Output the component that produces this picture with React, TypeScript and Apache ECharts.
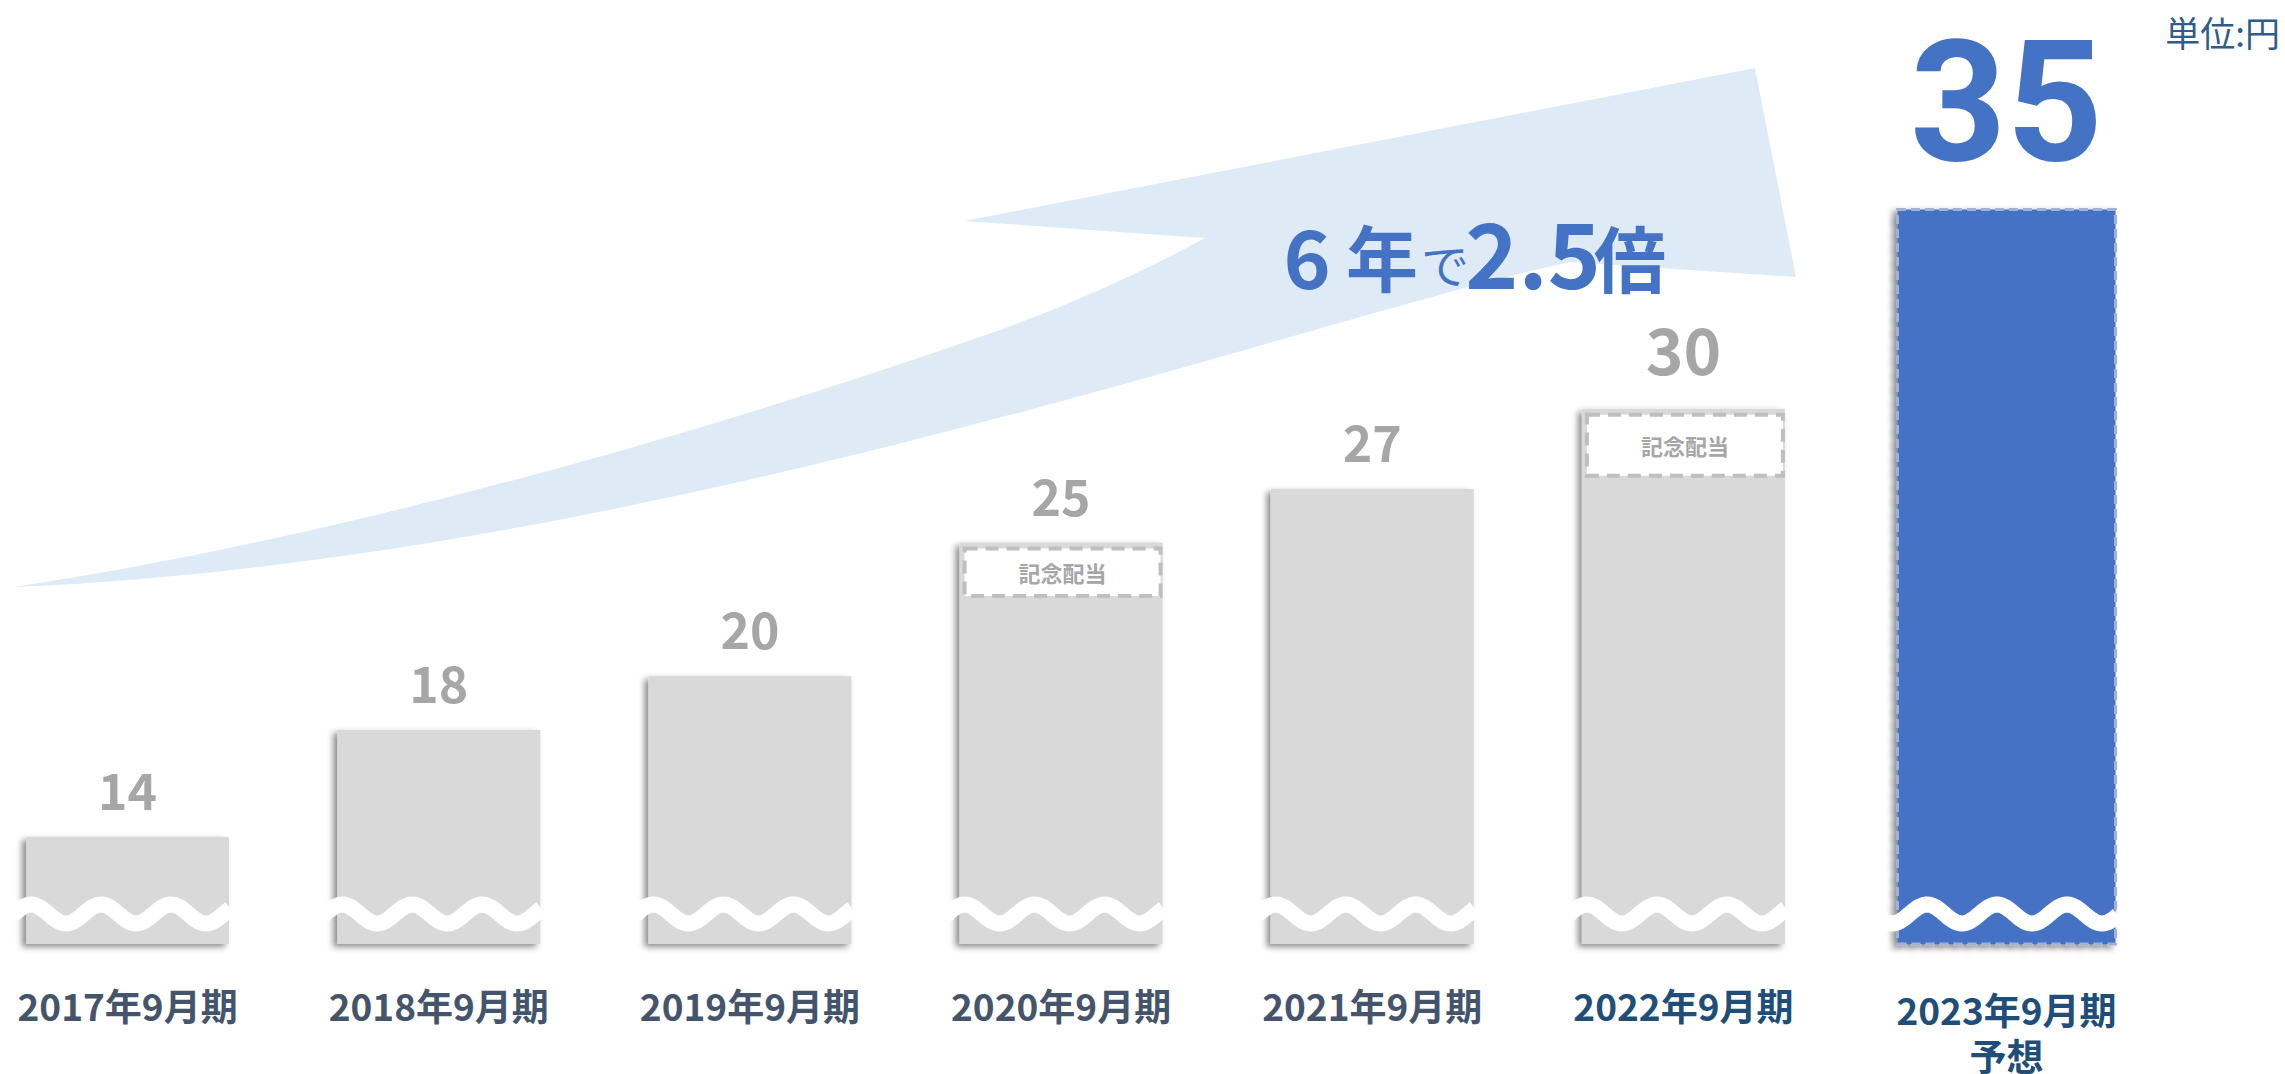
import React, { useEffect, useRef } from 'react';
import * as echarts from 'echarts';

// ---- data ----
const categories = ['2017年9月期', '2018年9月期', '2019年9月期', '2020年9月期', '2021年9月期', '2022年9月期'];
const dividends = [14, 18, 20, 25, 27, 30];
const commemorative = [0, 0, 0, 2, 0, 2.5];
const forecastCategories = ['2023年9月期\n予想'];
const forecastDividends = [35];
const commemorativeLabel = '記念配当';
const unitLabel = '単位:円';
const growthParts = ['6', '年', 'で', '2.5', '倍'];

const ARROW_D =
  'M13,587 C250,552 600,470 1000,330 Q1110,290 1205,238 L964,221 L1755,68 L1796,277 L1570,262 C1300,320 650,560 13,587 Z';

let registered = false;
function ensureShapes() {
  if (registered) return;
  echarts.graphic.registerShape('growthArrow', echarts.graphic.extendPath(ARROW_D, {}) as any);
  registered = true;
}

const FONT = "'Noto Sans CJK JP', 'Noto Sans', sans-serif";
const BAR_W = 203;
const FORECAST_W = 221;
const Y_MIN = 10;

function waveRenderer(barWidth: number, phase: number) {
  return (params: any, api: any) => {
    const base = api.coord([api.value(0), api.value(1)]);
    const barLeft = base[0] - barWidth / 2;
    const left = barLeft - 14;
    const right = base[0] + barWidth / 2 + 1;
    const P = 70;
    const A = 9.5;
    const yc = base[1] - 30;
    const pts: number[][] = [];
    for (let x = left; x <= right; x += 2) {
      pts.push([x, yc - A * Math.cos((2 * Math.PI * (x - barLeft - phase)) / P)]);
    }
    return {
      type: 'polyline',
      shape: { points: pts },
      style: { stroke: '#ffffff', lineWidth: 16, fill: null },
    };
  };
}

export default function App() {
  const ref = useRef<HTMLDivElement>(null);

  useEffect(() => {
    ensureShapes();
    const chart = echarts.init(ref.current!, undefined, { renderer: 'svg' });

    const shadow = {
      shadowBlur: 6,
      shadowColor: 'rgba(0,0,0,0.45)',
      shadowOffsetX: -4,
      shadowOffsetY: 3,
    };

    const option: any = {
      animation: false,
      backgroundColor: '#ffffff',
      grid: [
        { left: -28, top: 208, width: 1867, height: 736, containLabel: false, outerBoundsMode: 'none' },
        { left: 1850, top: 208, width: 313, height: 736, containLabel: false, outerBoundsMode: 'none' },
      ],
      xAxis: [
        {
          type: 'category',
          gridIndex: 0,
          data: categories,
          axisLine: { show: false },
          axisTick: { show: false },
          splitLine: { show: false },
          axisLabel: {
            interval: 0,
            margin: 42,
            fontSize: 37,
            fontWeight: 'bold',
            fontFamily: FONT,
            color: (v: string, i: number) => (i === categories.length - 1 ? '#1f4e79' : '#44546a'),
          },
        },
        {
          type: 'category',
          gridIndex: 1,
          data: forecastCategories,
          axisLine: { show: false },
          axisTick: { show: false },
          splitLine: { show: false },
          axisLabel: {
            interval: 0,
            margin: 42,
            fontSize: 37,
            lineHeight: 46,
            fontWeight: 'bold',
            fontFamily: FONT,
            color: '#1f4e79',
          },
        },
      ],
      yAxis: [
        { type: 'value', gridIndex: 0, min: Y_MIN, max: 37.5, show: false, splitLine: { show: false } },
        { type: 'value', gridIndex: 1, min: Y_MIN, max: 35, show: false, splitLine: { show: false } },
      ],
      graphic: [
        { type: 'growthArrow', x: 0, y: 0, silent: true, z: 0, style: { fill: '#deebf7' } },
        {
          type: 'text', x: 1307, y: 254, z: 10,
          style: { text: growthParts[0], fontSize: 80, fontWeight: 'bold', fontFamily: FONT, fill: '#4472c4', align: 'center', verticalAlign: 'middle' },
        },
        {
          type: 'text', x: 1382, y: 254, z: 10,
          style: { text: growthParts[1], fontSize: 72, fontWeight: 'bold', fontFamily: FONT, fill: '#4472c4', align: 'center', verticalAlign: 'middle' },
        },
        {
          type: 'text', x: 1445, y: 263, z: 10,
          style: { text: growthParts[2], fontSize: 48, fontWeight: 'normal', fontFamily: FONT, fill: '#4472c4', align: 'center', verticalAlign: 'middle' },
        },
        {
          type: 'text', x: 1533, y: 250, z: 10,
          style: { text: growthParts[3], fontSize: 90, fontWeight: 'bold', fontFamily: FONT, fill: '#4472c4', align: 'center', verticalAlign: 'middle' },
        },
        {
          type: 'text', x: 1630, y: 255, z: 10,
          style: { text: growthParts[4], fontSize: 72, fontWeight: 'bold', fontFamily: FONT, fill: '#4472c4', align: 'center', verticalAlign: 'middle' },
        },
        {
          type: 'text', x: 2280, y: 31, z: 10,
          style: { text: unitLabel, fontSize: 35, fontWeight: 'normal', fontFamily: FONT, fill: '#2e5d8c', align: 'right', verticalAlign: 'middle' },
        },
      ],
      series: [
        {
          name: 'dividend',
          type: 'bar',
          xAxisIndex: 0,
          yAxisIndex: 0,
          barWidth: BAR_W,
          z: 2,
          data: dividends.map((v, i) =>
            i === dividends.length - 1
              ? { value: v, label: { fontSize: 64, distance: 30 } }
              : { value: v }
          ),
          itemStyle: { color: '#d9d9d9', ...shadow },
          label: {
            show: true,
            position: 'top',
            distance: 24,
            fontSize: 50,
            fontWeight: 'bold',
            fontFamily: FONT,
            color: '#a6a6a6',
          },
        },
        {
          name: 'commemorative',
          type: 'custom',
          xAxisIndex: 0,
          yAxisIndex: 0,
          z: 3,
          encode: { x: 0, y: 1 },
          data: dividends.map((v, i) => [i, v, commemorative[i]]),
          renderItem: (params: any, api: any) => {
            const idx = api.value(0);
            const total = api.value(1);
            const comm = api.value(2);
            if (!comm) return null;
            const top = api.coord([idx, total]);
            const bot = api.coord([idx, total - comm]);
            const x0 = top[0] - BAR_W / 2 + 5;
            const x1 = top[0] + BAR_W / 2 - 2;
            const y0 = top[1] + 6;
            const y1 = bot[1];
            return {
              type: 'group',
              children: [
                {
                  type: 'rect',
                  shape: { x: x0, y: y0, width: x1 - x0, height: y1 - y0 },
                  style: { fill: '#ffffff', stroke: '#bfbfbf', lineWidth: 4, lineDash: [13, 8] },
                },
                {
                  type: 'text',
                  x: (x0 + x1) / 2,
                  y: (y0 + y1) / 2,
                  style: {
                    text: commemorativeLabel,
                    align: 'center',
                    verticalAlign: 'middle',
                    fill: '#a6a6a6',
                    fontSize: 22,
                    fontWeight: 'bold',
                    fontFamily: FONT,
                  },
                },
              ],
            };
          },
        },
        {
          name: 'wave',
          type: 'custom',
          xAxisIndex: 0,
          yAxisIndex: 0,
          z: 4,
          silent: true,
          encode: { x: 0, y: 1 },
          data: categories.map((c, i) => [i, Y_MIN]),
          renderItem: waveRenderer(BAR_W, 5),
        },
        {
          name: 'forecast',
          type: 'bar',
          xAxisIndex: 1,
          yAxisIndex: 1,
          barWidth: FORECAST_W,
          z: 2,
          data: forecastDividends,
          itemStyle: {
            color: '#4472c4',
            borderColor: '#9fb2d6',
            borderWidth: 3,
            borderType: [9, 5],
            ...shadow,
          },
          label: {
            show: true,
            position: 'top',
            distance: 22,
            fontSize: 168,
            fontWeight: 'bold',
            fontFamily: "Roboto, 'Noto Sans', sans-serif",
            color: '#4472c4',
          },
        },
        {
          name: 'forecastWave',
          type: 'custom',
          xAxisIndex: 1,
          yAxisIndex: 1,
          z: 4,
          silent: true,
          encode: { x: 0, y: 1 },
          data: forecastCategories.map((c, i) => [i, Y_MIN]),
          renderItem: waveRenderer(FORECAST_W, 31),
        },
      ],
    };

    chart.setOption(option);
    return () => chart.dispose();
  }, []);

  return (
    <div
      ref={ref}
      style={{ position: 'absolute', left: 0, top: 0, width: 2285, height: 1074 }}
    />
  );
}
